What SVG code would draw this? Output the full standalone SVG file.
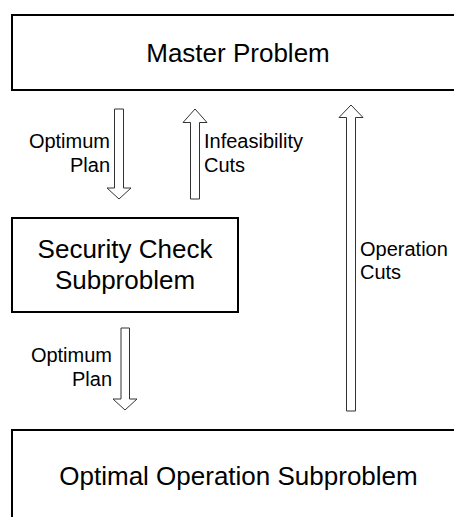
<svg xmlns="http://www.w3.org/2000/svg" width="454" height="517" viewBox="0 0 454 517">
<style>
.box{fill:#fff;stroke:#000;stroke-width:2}
.big{font-family:"Liberation Sans",Arial,sans-serif;font-size:26px;fill:#000}
.lbl{font-family:"Liberation Sans",Arial,sans-serif;font-size:20px;fill:#000}
.arr{fill:#fff;stroke:#333;stroke-width:1;stroke-linejoin:miter}
</style>
<rect width="454" height="517" fill="#fff"/>
<g id="master">
<rect class="box" x="12" y="15" width="460" height="75"/>
<text class="big" x="238" y="62" text-anchor="middle">Master Problem</text>
</g>
<g id="security">
<rect class="box" x="12" y="218" width="226" height="94"/>
<text class="big" x="125" y="258" text-anchor="middle">Security Check</text>
<text class="big" x="125" y="289" text-anchor="middle">Subproblem</text>
</g>
<g id="operation">
<rect class="box" x="12" y="430" width="460" height="100"/>
<text class="big" x="238.5" y="485" text-anchor="middle">Optimal Operation Subproblem</text>
</g>
<g id="connectors">
<polygon class="arr" points="114.5,109 123.5,109 123.5,188 131,188 119,199 107,188 114.5,188"/>
<polygon class="arr" points="195,109 207,122.5 199.5,122.5 199.5,199 190.5,199 190.5,122.5 183,122.5"/>
<polygon class="arr" points="351,105 363,117.5 355.5,117.5 355.5,411 346.5,411 346.5,117.5 339,117.5"/>
<polygon class="arr" points="121,328 129.5,328 129.5,399 137,399 125,410 113,399 121,399"/>
<text class="lbl" x="110" y="148" text-anchor="end">Optimum</text>
<text class="lbl" x="110" y="172" text-anchor="end">Plan</text>
<text class="lbl" x="204" y="148">Infeasibility</text>
<text class="lbl" x="204" y="172">Cuts</text>
<text class="lbl" x="360" y="256">Operation</text>
<text class="lbl" x="360" y="279">Cuts</text>
<text class="lbl" x="112" y="362" text-anchor="end">Optimum</text>
<text class="lbl" x="112" y="386" text-anchor="end">Plan</text>
</g>
</svg>
